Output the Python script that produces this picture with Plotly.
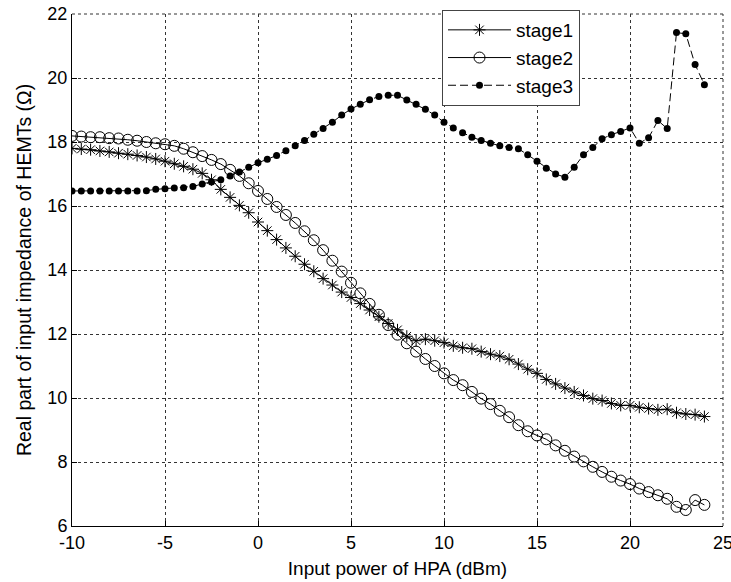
import numpy as np
import plotly.graph_objects as go

# Input power (dBm), 0.5 dB steps
power = [(-10 + 0.5 * i) for i in range(69)]

stage1 = [17.80, 17.78, 17.76, 17.72, 17.69, 17.65, 17.62, 17.58, 17.53, 17.47,
          17.40, 17.32, 17.24, 17.15, 17.02, 16.82, 16.52, 16.27, 16.02, 15.79,
          15.50, 15.23, 14.95, 14.69, 14.43, 14.18, 13.96, 13.73, 13.53, 13.31,
          13.14, 12.95, 12.75, 12.54, 12.33, 12.13, 11.93, 11.79, 11.84, 11.79,
          11.73, 11.63, 11.57, 11.54, 11.45, 11.37, 11.31, 11.21, 11.06, 10.90,
          10.77, 10.58, 10.44, 10.31, 10.19, 10.08, 9.98, 9.92, 9.83, 9.77,
          9.77, 9.71, 9.67, 9.63, 9.65, 9.54, 9.50, 9.48, 9.42]

stage2 = [18.19, 18.17, 18.15, 18.15, 18.12, 18.11, 18.07, 18.04, 18.00, 17.96,
          17.93, 17.88, 17.79, 17.68, 17.56, 17.44, 17.31, 17.13, 16.94, 16.71,
          16.47, 16.22, 15.97, 15.72, 15.47, 15.21, 14.93, 14.62, 14.29, 13.95,
          13.60, 13.27, 12.94, 12.60, 12.28, 11.98, 11.71, 11.45, 11.22, 11.00,
          10.77, 10.56, 10.40, 10.19, 9.98, 9.81, 9.60, 9.40, 9.15, 8.96,
          8.83, 8.71, 8.52, 8.35, 8.17, 8.02, 7.85, 7.69, 7.54, 7.42,
          7.31, 7.17, 7.06, 6.96, 6.85, 6.60, 6.50, 6.81, 6.66]

stage3 = [16.47, 16.47, 16.47, 16.47, 16.47, 16.47, 16.47, 16.47, 16.48, 16.52,
          16.54, 16.56, 16.57, 16.61, 16.69, 16.75, 16.82, 16.94, 17.06, 17.21,
          17.35, 17.46, 17.58, 17.73, 17.88, 18.05, 18.24, 18.42, 18.62, 18.84,
          19.03, 19.18, 19.32, 19.42, 19.46, 19.46, 19.31, 19.18, 19.02, 18.84,
          18.62, 18.44, 18.29, 18.15, 18.05, 17.96, 17.88, 17.83, 17.79, 17.60,
          17.40, 17.18, 17.00, 16.90, 17.21, 17.60, 17.83, 18.10, 18.23, 18.33,
          18.44, 17.96, 18.13, 18.67, 18.42, 21.42, 21.38, 20.42, 19.79]

series_names = ["stage1", "stage2", "stage3"]
x_ticks = [-10, -5, 0, 5, 10, 15, 20, 25]
y_ticks = [6, 8, 10, 12, 14, 16, 18, 20, 22]

FONT = "Liberation Sans, Arial, Helvetica, sans-serif"
GRID_DASH = "3px,3px"

fig = go.Figure()
fig.add_trace(go.Scatter(
    x=power, y=stage1, name=series_names[0], mode="lines+markers",
    line=dict(color="black", width=1),
    marker=dict(symbol="asterisk-open", size=10, color="black",
                line=dict(color="#222", width=1)),
    legendgroup="a"))
fig.add_trace(go.Scatter(
    x=power, y=stage2, name=series_names[1], mode="lines+markers",
    line=dict(color="black", width=1),
    marker=dict(symbol="circle-open", size=11, color="black",
                line=dict(color="#222", width=1)),
    legendgroup="b"))
fig.add_trace(go.Scatter(
    x=power, y=stage3, name=series_names[2], mode="lines+markers",
    line=dict(color="black", width=1, dash="8px,4px"),
    marker=dict(symbol="circle", size=7, color="black"),
    legendgroup="c"))

# dotted top / right frame (the grid lines at the range ends)
fig.add_shape(type="line", xref="paper", yref="paper", x0=0, x1=1, y0=1, y1=1,
              line=dict(color="#333", width=1, dash=GRID_DASH), layer="below")
fig.add_shape(type="line", xref="paper", yref="paper", x0=1, x1=1, y0=0, y1=1,
              line=dict(color="#333", width=1, dash=GRID_DASH), layer="below")

fig.update_layout(
    width=731, height=582,
    margin=dict(l=72, r=8, t=14, b=56, autoexpand=False),
    paper_bgcolor="white", plot_bgcolor="white",
    font=dict(family=FONT, size=18, color="black"),
    showlegend=True,
    legend=dict(
        x=(442 - 72) / 651, y=1 + 4 / 512, xanchor="left", yanchor="top",
        bgcolor="white", bordercolor="#444", borderwidth=1,
        font=dict(size=19, family=FONT, color="black"),
        itemwidth=63, tracegroupgap=0, traceorder="grouped",
    ),
    xaxis=dict(
        range=[-10, 25], tickvals=x_ticks, ticktext=[str(v) for v in x_ticks],
        showline=True, linecolor="black", linewidth=1, mirror=False,
        ticks="inside", ticklen=5, tickcolor="black",
        showgrid=True, gridcolor="#333", gridwidth=1, griddash=GRID_DASH,
        zeroline=False, ticklabeloverflow="allow", automargin=False,
        title=dict(text="Input power of HPA (dBm)", standoff=10,
                   font=dict(size=19, family=FONT)),
        tickfont=dict(size=18, family=FONT),
    ),
    yaxis=dict(
        range=[6, 22], tickvals=y_ticks, ticktext=[str(v) for v in y_ticks],
        showline=True, linecolor="black", linewidth=1, mirror=False,
        ticks="inside", ticklen=5, tickcolor="black",
        showgrid=True, gridcolor="#333", gridwidth=1, griddash=GRID_DASH,
        zeroline=False, ticklabeloverflow="allow", automargin=False,
        title=dict(text="Real part of input impedance of HEMTs (Ω)", standoff=10,
                   font=dict(size=19.5, family=FONT)),
        tickfont=dict(size=18, family=FONT),
    ),
)

fig.write_html("out.html")
